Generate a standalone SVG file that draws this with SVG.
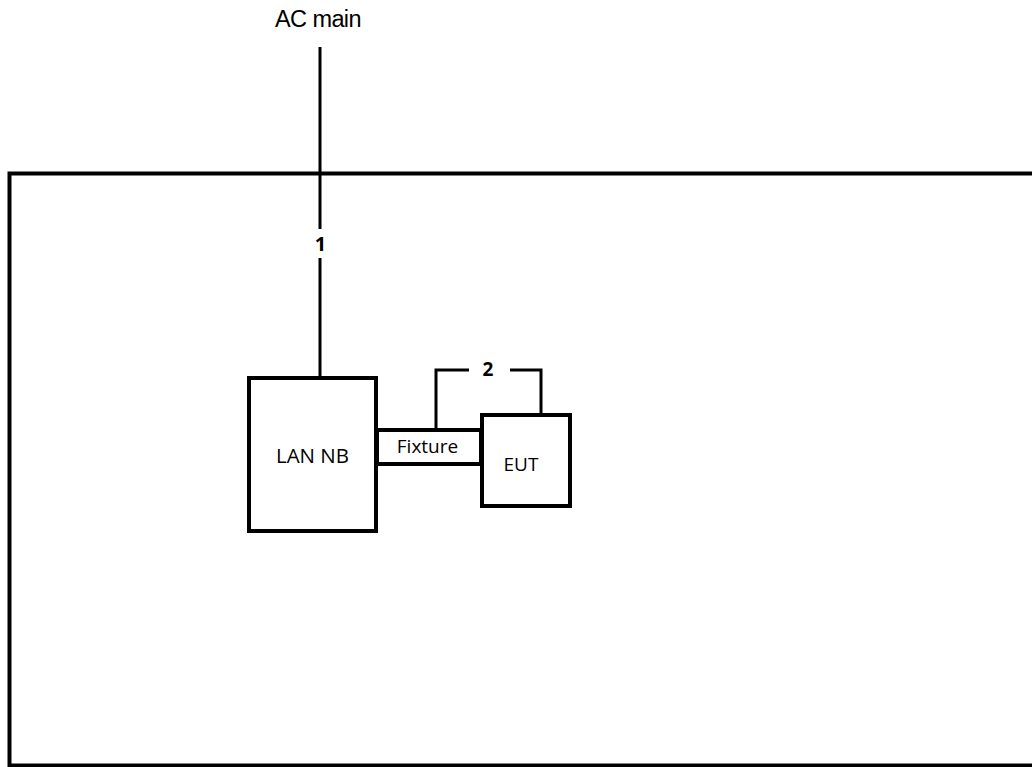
<svg xmlns="http://www.w3.org/2000/svg" width="1032" height="767" viewBox="0 0 1032 767">
<style>
.box{fill:#fff;stroke:#000;stroke-width:4}
.ln{fill:none;stroke:#000;stroke-width:3}
.lbl{font-family:"Open Sans","Liberation Sans",sans-serif;fill:#000;text-anchor:middle}
.num{font-family:"Open Sans","Liberation Sans",sans-serif;font-weight:bold;fill:#000;text-anchor:middle}
</style>
<rect width="1032" height="767" fill="#fff"/>
<g id="room"><rect x="9.5" y="173.5" width="1040" height="592" fill="none" stroke="#000" stroke-width="4"/></g>
<g id="connectors">
<line class="ln" x1="320" y1="47" x2="320" y2="229"/>
<line class="ln" x1="320" y1="258" x2="320" y2="378"/>
<polyline class="ln" points="436,430 436,370 469,370"/>
<polyline class="ln" points="510,370 541,370 541,415"/>
</g>
<g id="ac-main"><text x="318" y="27" font-family="Liberation Sans, Arial, sans-serif" font-size="23.5" text-anchor="middle" letter-spacing="-0.6">AC main</text></g>
<g id="label-1"><text class="num" x="320.5" y="250.5" font-size="20">1</text></g>
<g id="label-2"><text class="num" x="488" y="375.5" font-size="19">2</text></g>
<g id="lan-nb"><rect class="box" x="249" y="378" width="127" height="153"/><text class="lbl" x="312.5" y="463" font-size="20.5">LAN NB</text></g>
<g id="fixture"><rect class="box" x="377" y="430" width="104" height="34"/><text class="lbl" x="427.5" y="452.5" font-size="19">Fixture</text></g>
<g id="eut"><rect class="box" x="482" y="415" width="88" height="91"/><text class="lbl" x="521" y="470.5" font-size="19">EUT</text></g>
</svg>
